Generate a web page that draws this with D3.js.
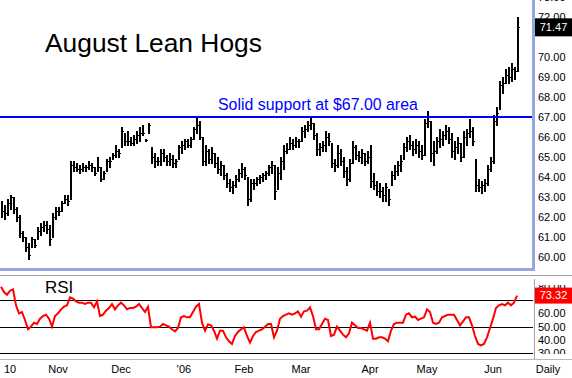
<!DOCTYPE html>
<html><head><meta charset="utf-8">
<script src="https://cdn.jsdelivr.net/npm/d3@7"></script>
<style>body{margin:0;background:#fff}svg{display:block}text{font-family:"Liberation Sans",Arial,sans-serif}</style>
</head><body><svg id="c" width="572" height="378"></svg>
<script>
const highs=[62.8,62.6,62.9,63.1,63.0,62.5,62.1,61.3,61.0,60.7,
61.0,60.9,61.5,61.7,61.8,61.8,61.6,62.2,62.5,62.5,
62.8,63.1,63.1,64.8,64.8,64.7,64.6,64.7,64.6,64.8,
64.7,64.5,65.0,64.5,64.3,64.9,65.0,65.2,65.6,65.4,
66.5,66.2,66.3,66.0,66.1,66.3,66.5,66.6,65.9,66.7,
65.5,65.2,65.0,65.4,65.4,65.1,65.2,65.1,64.9,65.6,
65.8,65.9,65.9,66.0,66.5,67.0,66.8,66.0,65.6,65.4,
65.5,65.2,65.0,64.8,64.6,64.2,63.9,63.8,64.1,64.4,
64.7,64.5,64.0,63.9,63.9,64.0,64.1,64.2,64.3,64.6,
64.8,64.6,64.5,65.0,65.6,65.7,66.0,65.9,66.0,65.9,
66.5,66.6,66.8,67.0,66.7,66.2,65.7,65.8,66.3,66.2,
65.7,64.9,65.6,65.4,65.0,64.5,64.9,65.8,65.6,65.3,
65.4,65.2,65.3,65.6,64.2,63.8,63.7,63.5,63.7,63.4,
64.3,64.6,64.8,65.1,65.7,66.0,66.1,65.8,65.9,65.8,
65.6,66.9,67.3,66.8,65.8,66.0,66.4,66.3,66.6,66.5,
66.2,65.8,66.0,65.7,66.3,66.4,66.9,66.5,64.9,63.9,
63.8,63.9,64.6,65.0,67.1,67.5,68.8,69.0,69.4,69.5,
69.7,69.5,72.0];
const lows=[62.0,61.9,62.1,62.4,62.2,61.8,61.0,60.8,60.3,59.9,
60.5,60.5,60.9,61.1,61.3,61.2,60.6,61.0,61.9,62.1,
62.3,62.7,62.6,62.9,64.3,64.3,64.2,64.3,64.3,64.4,
64.3,64.1,64.3,63.8,63.9,64.3,64.5,64.9,65.0,65.0,
65.5,65.6,65.6,65.6,65.6,65.7,65.8,66.1,65.8,66.2,
64.7,64.5,64.6,64.6,64.8,64.6,64.6,64.5,64.5,64.9,
65.2,65.4,65.5,65.5,65.9,66.2,65.9,64.6,64.6,64.7,
64.7,64.5,64.2,64.1,63.9,63.5,63.3,63.2,63.5,63.8,
64.0,63.9,62.6,62.8,63.4,63.6,63.7,63.8,63.9,64.1,
64.2,62.9,63.4,63.9,64.4,65.2,65.4,65.4,65.5,65.5,
65.8,66.0,66.3,66.4,65.9,65.1,65.1,65.3,65.3,65.6,
64.5,64.3,64.5,64.6,64.0,63.6,63.8,64.7,64.9,64.8,
64.7,64.6,64.7,63.5,63.4,63.1,63.0,62.8,62.8,62.6,
63.6,63.9,64.1,64.3,64.9,65.3,65.4,65.1,65.2,65.0,
64.9,65.1,66.5,64.8,64.6,65.2,65.5,65.6,65.9,65.7,
65.0,64.9,65.2,64.8,65.0,65.6,66.0,65.6,63.3,63.3,
63.2,63.3,63.6,64.3,64.7,66.6,67.4,68.2,68.7,68.7,
68.8,68.9,69.3];
const closes=[62.3,62.2,62.7,63.0,62.4,62.0,61.2,61.0,60.5,60.1,
60.9,60.6,61.3,61.5,61.6,61.4,60.9,62.0,62.3,62.3,
62.7,62.9,62.8,64.6,64.5,64.4,64.4,64.5,64.5,64.6,
64.5,64.2,64.5,63.9,64.2,64.8,64.8,65.1,65.3,65.2,
66.3,65.8,65.8,65.7,65.9,66.1,66.2,66.2,65.85,66.6,
65.0,64.8,64.8,65.2,65.0,64.8,64.9,64.7,64.8,65.5,
65.6,65.8,65.6,65.9,66.4,66.6,66.0,64.8,65.3,64.9,
65.2,64.7,64.4,64.6,64.1,63.7,63.5,63.6,63.9,64.2,
64.4,64.1,62.9,63.7,63.7,63.9,64.0,64.1,64.2,64.5,
64.6,63.3,64.2,64.8,65.3,65.4,65.7,65.6,65.8,65.8,
66.3,66.4,66.6,66.7,66.1,65.4,65.5,65.6,66.0,65.8,
64.7,64.6,65.2,64.8,64.3,63.9,64.7,65.5,65.1,65.0,
65.2,64.8,65.0,63.8,63.6,63.3,63.3,63.1,63.5,62.9,
64.1,64.3,64.6,64.8,65.5,65.8,65.6,65.4,65.6,65.3,
65.1,66.7,66.8,65.2,65.3,65.8,65.9,66.1,66.3,65.9,
65.3,65.5,65.7,65.0,66.0,66.2,66.3,65.8,63.6,63.5,
63.6,63.7,64.4,64.8,66.8,67.2,68.6,68.7,69.1,69.0,
69.4,69.3,71.47];
const rsi=[80,76,74,77,78,66,60,61,55,48,
50,53,52,56,58,59,56,50,58,60,
63,65,66,72,71,69,68,68,67,68,
68,64.5,69,58,59,62,64,67,63,66,
68,66,63,64,64,65,67,64,61,65,
49.5,49.5,49.5,50,52,51,50,48,46.5,49,
57,58,57,57,61,65,67,53,47,51.7,
51,47,41,47,47,42,39,37,43,46,
48,49.5,43,38,43,46,47,48,50,52,
52,42,47,56,58,59,60,59,60,61.5,
57.5,61.5,62,64.5,58,48,48,52,56,55,
43,44,50,47,44,42,45,53,51,49,
49,48,47,53,41,41,42,42,41,39,
47,52,53,53,53,59,60,57,57.5,55,
56,57,63,61,53,52,53,57,58,59,
59,59,55,51,54,57,57,51,43,37,
36,37,42,49,56,64,66,67,66,68,
66,68,73.32];
// tick labels visible beside the boxes (71.00 and 70.00 are covered by the value boxes in the reference)
const priceTicks=[60,61,62,63,64,65,66,67,68,69,70,72,73];
const rsiTicks=[30,40,50,60,80];
const rsiLevels=[30,50,70];
const monthLabels=["10","Nov","Dec","'06","Feb","Mar","Apr","May","Jun"];
const monthIndex=[3,19,40,61,81,100,123,142,164];
const supportLevel=67;
const lastPrice=71.47, lastRsi=73.32;
const titleText="August Lean Hogs";
const noteText="Solid support at $67.00 area";
const periodText="Daily";

const svg=d3.select("#c");
const N=closes.length;
const x=d3.scaleLinear().domain([0,N-1]).range([1,517]);
const y=d3.scaleLinear().domain([60,72]).range([257.4,16.7]);
const yr=d3.scaleLinear().domain([30,80]).range([353.3,286.7]);
const fmt=d3.format(".2f");
const panelBlue="#94a7de";

const defs=svg.append("defs");
defs.append("clipPath").attr("id","clipMain").append("rect").attr("x",0).attr("y",0).attr("width",532).attr("height",268);
defs.append("clipPath").attr("id","clipMainAxis").append("rect").attr("x",535).attr("y",0).attr("width",40).attr("height",268);
defs.append("clipPath").attr("id","clipRsiAxis").append("rect").attr("x",535).attr("y",285).attr("width",40).attr("height",69);

// frame lines
svg.append("rect").attr("x",532).attr("y",0).attr("width",3).attr("height",271).attr("fill",panelBlue);
svg.append("rect").attr("x",0).attr("y",268).attr("width",535).attr("height",3).attr("fill",panelBlue);
svg.append("line").attr("x1",0).attr("x2",572).attr("y1",275.5).attr("y2",275.5).attr("stroke","#a0a0a0");
svg.append("line").attr("x1",0).attr("x2",572).attr("y1",359.5).attr("y2",359.5).attr("stroke","#b8b8b8");
svg.append("line").attr("x1",534.5).attr("x2",534.5).attr("y1",279).attr("y2",359).attr("stroke","#a0a0a0");

// main axis
const ma=svg.append("g").attr("clip-path","url(#clipMainAxis)").append("g").attr("transform","translate(535,0)")
  .call(d3.axisRight(y).tickValues(priceTicks).tickFormat(fmt).tickSize(0).tickPadding(3));
ma.select(".domain").remove();
ma.selectAll("text").attr("font-size",11).attr("font-family","Liberation Sans, Arial, sans-serif").attr("fill","#000");

// price bars
const gMain=svg.append("g").attr("clip-path","url(#clipMain)");
const bars=gMain.append("g").attr("fill","#000");
d3.range(N).forEach(i=>{
  const cx=Math.round(x(i));
  const top=Math.round(y(highs[i])), bot=Math.round(y(lows[i]));
  bars.append("rect").attr("x",cx).attr("y",top).attr("width",2).attr("height",Math.max(1,bot-top+1));
  const cy=Math.round(y(closes[i]));
  bars.append("rect").attr("x",cx+2).attr("y",cy).attr("width",1).attr("height",1);
});

// support line
gMain.append("line").attr("x1",0).attr("x2",532).attr("y1",y(supportLevel)).attr("y2",y(supportLevel))
  .attr("stroke","#0000ff").attr("stroke-width",2);

function fit(t,w){const l=t.node().getComputedTextLength();const fs=parseFloat(t.attr("font-size"));t.attr("font-size",fs*w/l);}
const tt=svg.append("text").attr("x",45).attr("y",52).attr("font-size",26).attr("fill","#000").text(titleText);
fit(tt,217);
const nt=svg.append("text").attr("x",218).attr("y",110).attr("font-size",14).attr("fill","#0000ff").text(noteText);
fit(nt,200);

// last price box
svg.append("rect").attr("x",535).attr("y",y(lastPrice)-9).attr("width",37).attr("height",18).attr("fill","#000");
svg.append("text").attr("x",553.5).attr("y",y(lastPrice)).attr("dy","0.35em").attr("text-anchor","middle")
  .attr("font-size",11).attr("fill","#fff").text(fmt(lastPrice));

// RSI panel
const gR=svg.append("g");
rsiLevels.forEach(v=>{
  gR.append("line").attr("x1",0).attr("x2",533).attr("y1",Math.round(yr(v))+0.5).attr("y2",Math.round(yr(v))+0.5).attr("stroke","#000");
});
gR.append("path").datum(rsi).attr("fill","none").attr("stroke","#ff0000").attr("stroke-width",2)
  .attr("d",d3.line().x((d,i)=>x(i)).y(d=>yr(d)));
gR.append("text").attr("x",45).attr("y",293).attr("font-size",17).attr("fill","#000").text("RSI");

const ra=svg.append("g").attr("clip-path","url(#clipRsiAxis)").append("g").attr("transform","translate(535,0)")
  .call(d3.axisRight(yr).tickValues(rsiTicks).tickFormat(fmt).tickSize(0).tickPadding(3));
ra.select(".domain").remove();
ra.selectAll("text").attr("font-size",11).attr("font-family","Liberation Sans, Arial, sans-serif").attr("fill","#000");

svg.append("rect").attr("x",535).attr("y",yr(lastRsi)-8).attr("width",37).attr("height",16).attr("fill","#ff0000");
svg.append("text").attr("x",553.5).attr("y",yr(lastRsi)).attr("dy","0.35em").attr("text-anchor","middle")
  .attr("font-size",11).attr("fill","#fff").text(fmt(lastRsi));

// x labels
svg.append("g").selectAll("text").data(monthLabels).join("text")
  .attr("x",(d,i)=>x(monthIndex[i])).attr("y",373).attr("text-anchor","middle").attr("font-size",11).attr("fill","#000").text(d=>d);
svg.append("text").attr("x",548).attr("y",373).attr("text-anchor","middle").attr("font-size",11).attr("fill","#000").text(periodText);
</script></body></html>
